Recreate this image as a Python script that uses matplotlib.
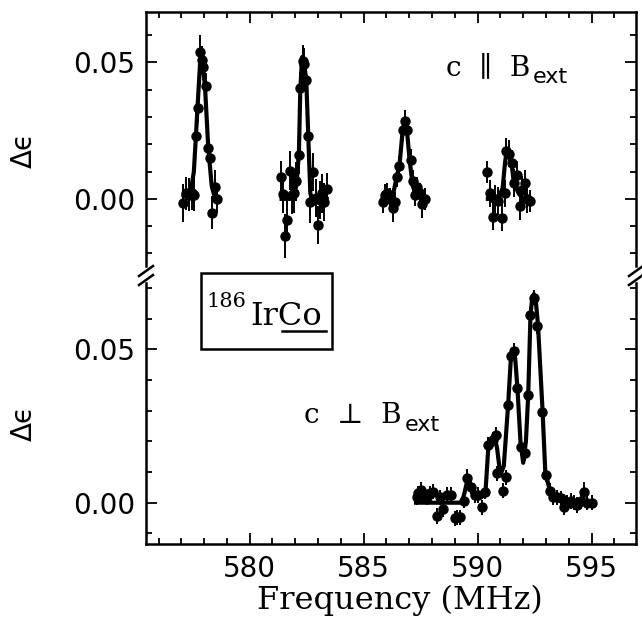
import matplotlib
matplotlib.use("Agg")
import matplotlib.pyplot as plt
from matplotlib.ticker import MultipleLocator, FormatStrFormatter
from matplotlib.patches import Rectangle
from matplotlib.lines import Line2D

# ---- c || B_ext (upper panel), four separate resonance lines ----
par_x1 = [577.09, 577.21, 577.35, 577.46, 577.56, 577.64, 577.75, 577.83, 577.91, 577.96, 578.07, 578.16, 578.26, 578.35, 578.48, 578.55]
par_y1 = [-0.0016, 0.0021, 0.0015, 0.0020, 0.0015, 0.0229, 0.0333, 0.0540, 0.0510, 0.0485, 0.0412, 0.0186, 0.0149, -0.0050, 0.0045, 0.0000]
par_e1 = [0.007, 0.006, 0.006, 0.006, 0.006, 0.005, 0.005, 0.006, 0.005, 0.005, 0.005, 0.005, 0.005, 0.006, 0.006, 0.005]

par_x2 = [581.36, 581.45, 581.56, 581.65, 581.77, 581.86, 581.94, 582.04, 582.16, 582.22, 582.32, 582.39, 582.48, 582.57, 582.66, 582.78, 582.89, 582.98, 583.08, 583.17, 583.26, 583.38]
par_y2 = [0.0080, 0.0018, -0.0136, -0.0077, 0.0104, 0.0015, 0.0020, 0.0064, 0.0161, 0.0406, 0.0504, 0.0493, 0.0437, 0.0229, -0.0010, 0.0100, 0.0003, -0.0095, -0.0004, 0.0020, -0.0010, 0.0035]
par_e2 = [0.006, 0.007, 0.008, 0.007, 0.007, 0.007, 0.007, 0.007, 0.007, 0.006, 0.006, 0.006, 0.006, 0.006, 0.008, 0.007, 0.007, 0.007, 0.007, 0.007, 0.007, 0.006]

par_x3 = [585.83, 585.93, 586.02, 586.15, 586.27, 586.37, 586.45, 586.56, 586.71, 586.81, 586.91, 587.06, 587.15, 587.25, 587.35, 587.47, 587.55, 587.69]
par_y3 = [-0.0010, 0.0015, 0.0020, 0.0000, -0.0034, -0.0013, 0.0082, 0.0119, 0.0253, 0.0284, 0.0253, 0.0143, 0.0067, 0.0015, 0.0042, 0.0020, -0.0020, 0.0000]
par_e3 = [0.004, 0.004, 0.004, 0.004, 0.005, 0.004, 0.004, 0.004, 0.004, 0.004, 0.004, 0.004, 0.004, 0.004, 0.004, 0.004, 0.005, 0.004]

par_x4 = [590.42, 590.54, 590.66, 590.76, 590.90, 591.08, 591.20, 591.24, 591.39, 591.49, 591.59, 591.71, 591.86, 591.96, 592.07, 592.18, 592.32]
par_y4 = [0.0100, 0.0020, -0.0065, 0.0000, -0.0008, -0.0069, 0.0020, 0.0174, 0.0166, 0.0131, 0.0058, 0.0088, -0.0027, 0.0033, 0.0057, 0.0000, -0.0008]
par_e4 = [0.004, 0.005, 0.005, 0.005, 0.005, 0.005, 0.005, 0.005, 0.005, 0.005, 0.005, 0.005, 0.005, 0.005, 0.005, 0.005, 0.004]

# fitted curves
fit_x1 = [577.10, 577.40, 577.55, 577.64, 577.72, 577.85, 577.92, 578.04, 578.18, 578.33, 578.45, 578.55]
fit_y1 = [0.001, 0.002, 0.010, 0.023, 0.035, 0.0535, 0.051, 0.041, 0.019, 0.005, 0.001, 0.000]
fit_x2 = [581.40, 581.90, 582.05, 582.16, 582.22, 582.30, 582.37, 582.48, 582.57, 582.66, 582.75, 583.38]
fit_y2 = [0.000, 0.000, 0.005, 0.017, 0.040, 0.052, 0.050, 0.044, 0.023, 0.002, 0.000, 0.000]
fit_x3 = [585.83, 586.30, 586.45, 586.58, 586.70, 586.81, 586.90, 587.02, 587.15, 587.30, 587.69]
fit_y3 = [0.000, 0.002, 0.008, 0.013, 0.024, 0.029, 0.025, 0.014, 0.005, 0.001, 0.000]
fit_x4 = [590.45, 590.90, 591.10, 591.20, 591.27, 591.38, 591.49, 591.59, 591.80, 592.00, 592.32]
fit_y4 = [0.000, 0.000, 0.004, 0.013, 0.0175, 0.016, 0.013, 0.006, 0.002, 0.000, 0.000]

# ---- c _|_ B_ext (lower panel) ----
perp_x = [587.32, 587.40, 587.50, 587.62, 587.76, 587.91, 588.05, 588.23, 588.35, 588.49, 588.64, 588.82, 589.00, 589.10, 589.22, 589.40, 589.54, 589.69, 589.88, 590.03, 590.18, 590.32, 590.47, 590.69, 590.81, 590.86, 591.10, 591.24, 591.34, 591.45, 591.59, 591.75, 591.90, 592.07, 592.22, 592.32, 592.47, 592.61, 592.83, 592.99, 593.17, 593.32, 593.49, 593.64, 593.79, 593.93, 594.08, 594.22, 594.37, 594.52, 594.66, 594.81, 595.00]
perp_y = [0.0018, 0.0030, 0.0042, 0.0025, 0.0018, 0.0031, 0.0036, -0.0043, 0.0018, -0.0022, 0.0025, 0.0025, -0.0051, -0.0048, -0.0048, 0.0007, 0.0080, 0.0052, 0.0025, 0.0025, -0.0015, 0.0036, 0.0189, 0.0205, 0.0221, 0.0096, 0.0039, 0.0083, 0.0319, 0.0477, 0.0494, 0.0374, 0.0183, 0.0161, 0.0352, 0.0613, 0.0668, 0.0575, 0.0297, 0.0091, 0.0039, 0.0017, 0.0018, 0.0014, -0.0015, 0.0000, 0.0005, 0.0000, -0.0007, 0.0005, 0.0036, 0.0000, 0.0000]
perp_e = [0.0025, 0.0025, 0.0025, 0.0025, 0.0025, 0.0025, 0.0025, 0.0025, 0.0025, 0.0025, 0.0025, 0.0025, 0.0025, 0.0025, 0.0025, 0.0025, 0.0030, 0.0025, 0.0025, 0.0025, 0.0025, 0.0025, 0.0025, 0.0025, 0.0025, 0.0025, 0.0025, 0.0025, 0.0025, 0.0025, 0.0025, 0.0025, 0.0025, 0.0025, 0.0025, 0.0025, 0.0025, 0.0025, 0.0025, 0.0025, 0.0025, 0.0025, 0.0025, 0.0025, 0.0025, 0.0025, 0.0025, 0.0025, 0.0025, 0.0025, 0.0030, 0.0025, 0.0025]
perp_fit_x = [587.30, 589.30, 589.42, 589.54, 589.70, 589.90, 590.20, 590.35, 590.47, 590.60, 590.72, 590.85, 591.00, 591.15, 591.34, 591.45, 591.55, 591.65, 591.75, 591.88, 592.00, 592.12, 592.22, 592.32, 592.40, 592.47, 592.55, 592.65, 592.85, 592.97, 593.17, 593.40, 595.00]
perp_fit_y = [0.000, 0.000, 0.003, 0.007, 0.005, 0.002, 0.002, 0.004, 0.018, 0.021, 0.022, 0.018, 0.009, 0.012, 0.032, 0.046, 0.050, 0.047, 0.037, 0.020, 0.013, 0.020, 0.035, 0.061, 0.067, 0.068, 0.066, 0.058, 0.030, 0.010, 0.004, 0.001, 0.000]

W, H = 642, 626

def fx(x):
    return x / W

def fy(y):
    return 1 - y / H

fig = plt.figure(figsize=(6.42, 6.26), dpi=100)
ax1 = fig.add_axes([fx(146), fy(266), fx(636) - fx(146), fy(12) - fy(266)])
ax2 = fig.add_axes([fx(146), fy(544), fx(636) - fx(146), fy(283) - fy(544)])

def style(ax):
    ax.set_xlim(575.45, 596.95)
    ax.xaxis.set_major_locator(MultipleLocator(5))
    ax.xaxis.set_minor_locator(MultipleLocator(1))
    ax.yaxis.set_major_locator(MultipleLocator(0.05))
    ax.yaxis.set_minor_locator(MultipleLocator(0.01))
    ax.yaxis.set_major_formatter(FormatStrFormatter('%.2f'))
    ax.tick_params(which='both', direction='in', top=True, right=True, width=1.3)
    ax.tick_params(which='major', length=8)
    ax.tick_params(which='minor', length=4)
    ax.tick_params(axis='y', labelsize=20, pad=8)
    ax.tick_params(axis='x', labelsize=20, pad=8)
    for s in ax.spines.values():
        s.set_linewidth(1.8)

def draw(ax, x, y, e, fx_, fy_):
    ax.plot(fx_, fy_, color='black', lw=3.0, zorder=2)
    ax.errorbar(x, y, yerr=e, fmt='o', color='black', ms=6.5, elinewidth=1.4, capsize=0, zorder=3)

style(ax1)
style(ax2)
ax1.set_ylim(-0.0246, 0.0685)
ax2.set_ylim(-0.01346, 0.0716)
ax1.spines['bottom'].set_visible(False)
ax2.spines['top'].set_visible(False)
ax1.tick_params(which='both', bottom=False, labelbottom=False)
ax2.tick_params(which='both', top=False)

draw(ax1, par_x1, par_y1, par_e1, fit_x1, fit_y1)
draw(ax1, par_x2, par_y2, par_e2, fit_x2, fit_y2)
draw(ax1, par_x3, par_y3, par_e3, fit_x3, fit_y3)
draw(ax1, par_x4, par_y4, par_e4, fit_x4, fit_y4)
draw(ax2, perp_x, perp_y, perp_e, perp_fit_x, perp_fit_y)

ax2.set_xlabel('Frequency (MHz)', family='DejaVu Serif', fontsize=23)
ax2.xaxis.set_label_coords(0.518, -0.155)

# y labels
fig.text(fx(24), fy(150), 'Δϵ', rotation=90, fontsize=20, ha='center', va='center')
fig.text(fx(24), fy(423), 'Δϵ', rotation=90, fontsize=20, ha='center', va='center')

# axis break marks
for xs in (146, 636):
    for yc in (271, 280):
        fig.add_artist(Line2D([fx(xs - 7), fx(xs + 7)], [fy(yc + 5), fy(yc - 5)],
                              transform=fig.transFigure, color='black', lw=1.8))

serif = ['DejaVu Serif', 'DejaVu Sans']
# annotations
fig.text(fx(446), fy(75), 'c  ∥  B', family=serif, fontsize=20, va='baseline')
fig.text(fx(533), fy(83), 'ext', family='DejaVu Sans', fontsize=16, va='baseline')
fig.text(fx(304), fy(423), 'c  ⊥  B', family=serif, fontsize=20, va='baseline')
fig.text(fx(405), fy(431), 'ext', family='DejaVu Sans', fontsize=16, va='baseline')

# sample label box
fig.add_artist(Rectangle((fx(200.7), fy(349.3)), fx(332) - fx(200.7), fy(272.7) - fy(349.3),
                         transform=fig.transFigure, fill=False, lw=1.8, color='black'))
fig.text(fx(206), fy(307), '186', family='DejaVu Serif', fontsize=15, va='baseline')
fig.text(fx(250), fy(325), 'IrCo', family='DejaVu Serif', fontsize=23, va='baseline')
fig.add_artist(Line2D([fx(282), fx(326)], [fy(331), fy(331)],
                      transform=fig.transFigure, color='black', lw=1.8))

fig.savefig('out.png', dpi=100, facecolor='white')
